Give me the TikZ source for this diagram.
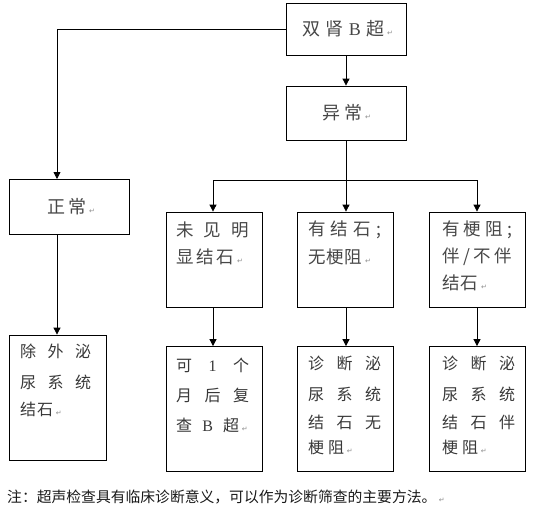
\documentclass[tikz,border=0pt]{standalone}
\usepackage{fontspec}
\setmainfont{Liberation Serif}
\newfontfamily\cjk{Noto Sans CJK SC}
\newfontfamily\symf{DejaVu Sans}
\usetikzlibrary{arrows.meta,calc}
\newcommand{\pmark}{{\symf\fontsize{7}{7}\selectfont\color{black!45}↵}}
\newcommand{\jline}[2]{\makebox[#1pt][s]{#2}}
\tikzset{
  box/.style={draw=black, line width=0.8pt, inner sep=0pt, rectangle},
  conn/.style={draw=black, line width=0.8pt},
  arr/.style={conn, -{Triangle[length=7pt,width=7pt]}},
  tA/.style={anchor=west, inner sep=0pt, text=black!72, font=\cjk\fontsize{18}{18}\selectfont},
  tB/.style={anchor=west, inner sep=0pt, text=black!72, font=\cjk\fontsize{17.5}{17.5}\selectfont},
  tC/.style={anchor=west, inner sep=0pt, text=black!78, font=\cjk\fontsize{16}{16}\selectfont},
  tN/.style={anchor=west, inner sep=0pt, text=black!90, font=\cjk\fontsize{14.8}{14.8}\selectfont},
}
\begin{document}
\begin{tikzpicture}[x=1pt,y=-1pt]
\useasboundingbox (0,0) rectangle (534,511);
% boxes
\node[box, minimum width=120pt, minimum height=52pt] (top) at (346,29) {};
\node[box, minimum width=120pt, minimum height=54pt] (yc) at (346,113) {};
\node[box, minimum width=120pt, minimum height=55pt] (zc) at (69,206.5) {};
\node[box, minimum width=96pt, minimum height=95pt] (a1) at (214,259.5) {};
\node[box, minimum width=96pt, minimum height=95pt] (a2) at (345,259.5) {};
\node[box, minimum width=96pt, minimum height=95pt] (a3) at (477,259.5) {};
\node[box, minimum width=97pt, minimum height=125pt] (b0) at (57.5,397.5) {};
\node[box, minimum width=96pt, minimum height=125pt] (b1) at (214,409) {};
\node[box, minimum width=96pt, minimum height=125pt] (b2) at (345,409) {};
\node[box, minimum width=96pt, minimum height=125pt] (b3) at (477,409) {};
% texts
\node[tA] (ttop) at (302,29) {\jline{82}{双\hfill 肾\hfill {\rmfamily B}\hfill 超}\,\pmark};
\node[tA] (tyc) at (322,113) {\jline{40}{异\hfill 常}\,\pmark};
\node[tA] (tzc) at (47,207) {\jline{39}{正\hfill 常}\,\pmark};
\node[tB] (ta1a) at (176,230) {\jline{73}{未\hfill 见\hfill 明}};
\node[tB] (ta1b) at (176,256.5) {\jline{58}{显\hfill 结\hfill 石}\,\pmark};
\node[tB] (ta2a) at (308,230) {\jline{73}{有\hfill 结\hfill 石\hfill ;}};
\node[tB] (ta2b) at (308,256.5) {\jline{54}{无\hfill 梗\hfill 阻}\,\pmark};
\node[tB] (ta3a) at (442,230) {\jline{70}{有\hfill 梗\hfill 阻\hfill ;}};
\node[tB] (ta3b) at (442,256.5) {\jline{70}{伴\hfill /\hfill 不\hfill 伴}};
\node[tB] (ta3c) at (442,283) {\jline{36}{结\hfill 石}\,\pmark};
\node[tC] (tb0a) at (20,351.5) {\jline{71}{除\hfill 外\hfill 泌}};
\node[tC] (tb0b) at (20,382) {\jline{71}{尿\hfill 系\hfill 统}};
\node[tC] (tb0c) at (20,409.5) {\jline{33}{结\hfill 石}\,\pmark};
\node[tC] (tb1a) at (176,365.5) {\jline{73}{可\hfill {\rmfamily 1}\hfill 个}};
\node[tC] (tb1b) at (176,395.5) {\jline{73}{月\hfill 后\hfill 复}};
\node[tC] (tb1c) at (176,425.5) {\jline{63}{查\hfill {\rmfamily B}\hfill 超}\,\pmark};
\node[tC] (tb2a) at (308,363.5) {\jline{73}{诊\hfill 断\hfill 泌}};
\node[tC] (tb2b) at (308,394.5) {\jline{73}{尿\hfill 系\hfill 统}};
\node[tC] (tb2c) at (308,422.5) {\jline{73}{结\hfill 石\hfill 无}};
\node[tC] (tb2d) at (308,447) {\jline{36}{梗\hfill 阻}\,\pmark};
\node[tC] (tb3a) at (442,363.5) {\jline{73}{诊\hfill 断\hfill 泌}};
\node[tC] (tb3b) at (442,394.5) {\jline{73}{尿\hfill 系\hfill 统}};
\node[tC] (tb3c) at (442,422.5) {\jline{73}{结\hfill 石\hfill 伴}};
\node[tC] (tb3d) at (442,447) {\jline{36}{梗\hfill 阻}\,\pmark};
\node[tN] (note) at (7,497) {注：超声检查具有临床诊断意义，可以作为诊断筛查的主要方法。\,\pmark};
% connectors
\coordinate (zin) at (57,179);
\coordinate (hL) at (213,180);
\coordinate (hR) at (477,180);
\coordinate (hM) at (346,180);
\draw[arr] (top.west) -| (zin);
\draw[arr] (top.south) -- (yc.north);
\draw[conn] (yc.south) -- (hM);
\draw[conn] (hL) -- (hR);
\draw[arr] (hL) -- (hL |- a1.north);
\draw[arr] (hM) -- (hM |- a2.north);
\draw[arr] (hR) -- (hR |- a3.north);
\draw[arr] (zin |- zc.south) -- (zin |- b0.north);
\draw[arr] (a1.south -| hL) -- (hL |- b1.north);
\draw[arr] (a2.south -| hM) -- (hM |- b2.north);
\draw[arr] (a3.south -| hR) -- (hR |- b3.north);
\end{tikzpicture}
\end{document}
